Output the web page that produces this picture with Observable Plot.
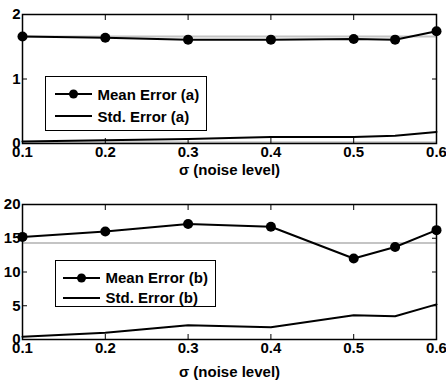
<!DOCTYPE html>
<html>
<head>
<meta charset="utf-8">
<script src="https://cdn.jsdelivr.net/npm/d3@7"></script>
<script src="https://cdn.jsdelivr.net/npm/@observablehq/plot@0.6"></script>
<style>
  html, body { margin: 0; padding: 0; background: #fff; }
  .panel { position: relative; width: 446px; height: 190px; }
  .legend {
    position: absolute; background: #fff; border: 1.5px solid #000; box-sizing: border-box;
    font-family: "Liberation Sans", Arial, sans-serif; font-weight: bold; font-size: 15px; color: #000;
  }
  .legend .row { position: absolute; left: 0; display: flex; align-items: center; white-space: nowrap; }
  .legend svg { display: block; margin-right: 6px; }
  svg text { font-family: "Liberation Sans", Arial, sans-serif; }
</style>
</head>
<body>
<div id="panelA" class="panel"></div>
<div id="panelB" class="panel"></div>
<script>
// noise levels (sigma)
const sigma = [0.1, 0.2, 0.3, 0.4, 0.5, 0.55, 0.6];
const xTicks = [0.1, 0.2, 0.3, 0.4, 0.5, 0.6];

// panel (a)
const meanA = [1.66, 1.64, 1.61, 1.61, 1.62, 1.61, 1.74];
const stdA  = [0.03, 0.05, 0.07, 0.10, 0.10, 0.12, 0.18];
const refA  = 1.66;     // gray reference line
const baseA = 0.02;     // gray baseline
const yTicksA = [0, 1, 2];
const yDomainA = [0, 2];

// panel (b)
const meanB = [15.2, 16.0, 17.1, 16.7, 12.0, 13.7, 16.2];
const stdB  = [0.4, 1.0, 2.1, 1.8, 3.6, 3.45, 5.2];
const refB  = 14.3;
const yTicksB = [0, 5, 10, 15, 20];
const yDomainB = [0, 20];

const labelsA = ["Mean Error (a)", "Std. Error (a)"];
const labelsB = ["Mean Error (b)", "Std. Error (b)"];

function makePlot({mean, std, ref, base, yTicks, yDomain, marginBottom, labelOffset}) {
  const meanData = sigma.map((s, i) => ({s, v: mean[i]}));
  const stdData = sigma.map((s, i) => ({s, v: std[i]}));
  const marks = [
    Plot.ruleY([ref], {stroke: "#c4c4c4", strokeWidth: 2}),
  ];
  if (base != null) marks.push(Plot.ruleY([base], {stroke: "#c4c4c4", strokeWidth: 2}));
  marks.push(
    Plot.line(stdData, {x: "s", y: "v", stroke: "#000", strokeWidth: 2}),
    Plot.line(meanData, {x: "s", y: "v", stroke: "#000", strokeWidth: 2}),
    Plot.dot(meanData, {x: "s", y: "v", r: 5, fill: "#000", stroke: "none"}),
    // tick labels
    Plot.axisX(xTicks, {anchor: "bottom", tickSize: 0, tickPadding: 3, fontSize: 15, fontWeight: "bold",
      label: "σ (noise level)", labelAnchor: "center", labelArrow: "none", labelOffset,
      tickFormat: d => String(d)}),
    Plot.axisY(yTicks, {anchor: "left", tickSize: 0, tickPadding: 2, fontSize: 15, fontWeight: "bold",
      label: null, tickFormat: d => String(d)}),
    // inward ticks
    Plot.axisX(xTicks, {anchor: "bottom", tickSize: 5, insetBottom: 5, label: null, tickFormat: () => ""}),
    Plot.axisX(xTicks, {anchor: "top", tickSize: 5, insetTop: 5, label: null, tickFormat: () => ""}),
    Plot.axisY(yTicks, {anchor: "left", tickSize: 5, insetLeft: 5, label: null, tickFormat: () => ""}),
    Plot.axisY(yTicks, {anchor: "right", tickSize: 5, insetRight: 5, label: null, tickFormat: () => ""}),
    Plot.frame({stroke: "#000", strokeWidth: 1.5})
  );
  return Plot.plot({
    width: 446, height: 190,
    marginLeft: 22, marginRight: 10, marginTop: 14, marginBottom,
    x: {domain: [0.1, 0.6]},
    y: {domain: yDomain},
    style: {background: "#fff", color: "#000", overflow: "visible"},
    marks
  });
}

function legend(labels, box) {
  const div = document.createElement("div");
  div.className = "legend";
  Object.assign(div.style, {left: box.x + "px", top: box.y + "px", width: box.w + "px", height: box.h + "px"});
  labels.forEach((lab, i) => {
    const row = document.createElement("div");
    row.className = "row";
    row.style.top = (box.rows[i] - box.y - 10) + "px";
    row.style.left = (box.sx - box.x - 1.5) + "px";
    row.style.height = "20px";
    const sw = box.sw;
    const dotSvg = i === 0 ? `<circle cx="${sw/2}" cy="10" r="4.5" fill="#000"/>` : "";
    row.innerHTML = `<svg width="${sw}" height="20"><line x1="0" x2="${sw}" y1="10" y2="10" stroke="#000" stroke-width="2"/>${dotSvg}</svg><span>${lab}</span>`;
    div.appendChild(row);
  });
  return div;
}

const panelA = document.getElementById("panelA");
panelA.appendChild(makePlot({mean: meanA, std: stdA, ref: refA, base: baseA, yTicks: yTicksA, yDomain: yDomainA, marginBottom: 47, labelOffset: 31}));
panelA.appendChild(legend(labelsA, {x: 45, y: 76, w: 162, h: 55, rows: [93, 115], sx: 55, sw: 37}));

const panelB = document.getElementById("panelB");
panelB.appendChild(makePlot({mean: meanB, std: stdB, ref: refB, base: null, yTicks: yTicksB, yDomain: yDomainB, marginBottom: 41, labelOffset: 37}));
panelB.appendChild(legend(labelsB, {x: 55, y: 70, w: 161, h: 47, rows: [86.7, 106.7], sx: 63, sw: 37}));
</script>
</body>
</html>
